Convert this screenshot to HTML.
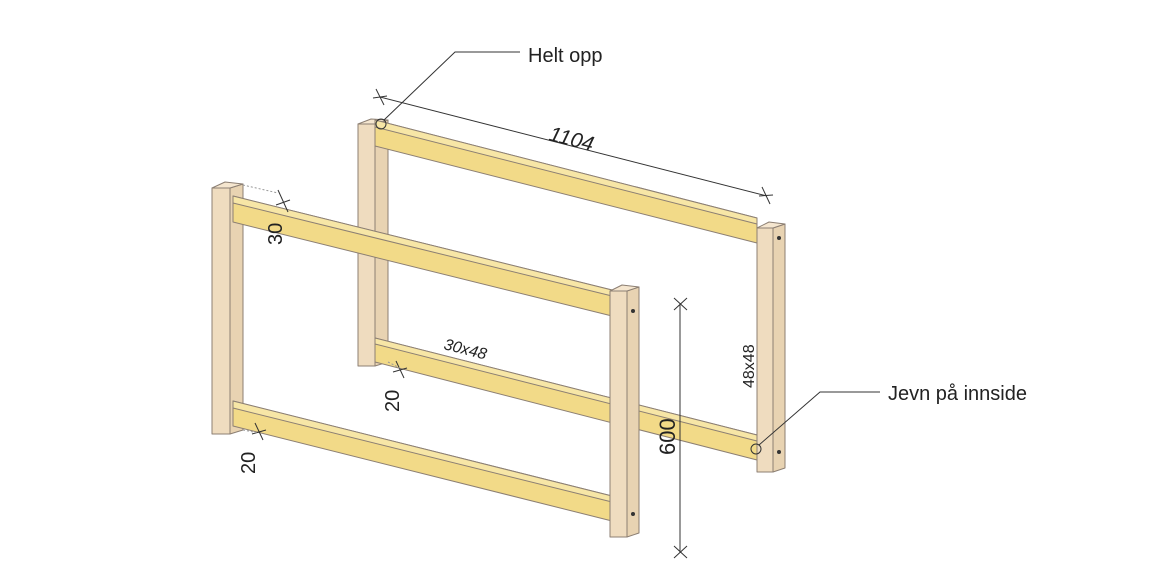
<!DOCTYPE html>
<html><head><meta charset="utf-8"><style>
html,body{margin:0;padding:0;background:#fff}
svg{display:block}
text{font-family:"Liberation Sans",sans-serif;fill:#222}
</style></head><body>
<svg width="1160" height="581" viewBox="0 0 1160 581" xmlns="http://www.w3.org/2000/svg">
<g stroke="#8c7f73" stroke-width="1" stroke-linejoin="round">
<!-- BACK FRAME -->
<!-- left post -->
<rect x="358" y="124" width="17" height="242" fill="#efdcbf"/>
<polygon points="375,124 388,120 388,362 375,366" fill="#e8d3b2"/>
<polygon points="358,124 371,119 388,120 375,124" fill="#f5e6cf"/>
<!-- top rail -->
<polygon points="375,120 757,218 757,243 375,146" fill="#f2da88"/>
<polygon points="375,120 757,218 757,224 375,127" fill="#f7e6a6"/>
<!-- bottom rail -->
<polygon points="375,338 757,435 757,460 375,362" fill="#f2da88"/>
<polygon points="375,338 757,435 757,441 375,344" fill="#f7e6a6"/>
<!-- right post -->
<rect x="757" y="228" width="16" height="244" fill="#efdcbf"/>
<polygon points="773,228 785,224 785,468 773,472" fill="#e8d3b2"/>
<polygon points="757,228 769,222 785,224 773,228" fill="#f5e6cf"/>
<!-- FRONT FRAME -->
<rect x="212" y="188" width="18" height="246" fill="#efdcbf"/>
<polygon points="230,188 243,184 243,430 230,434" fill="#e8d3b2"/>
<polygon points="212,188 225,182 243,184 230,188" fill="#f5e6cf"/>
<polygon points="233,196 612,290 612,316 233,222" fill="#f2da88"/>
<polygon points="233,196 612,290 612,296 233,203" fill="#f7e6a6"/>
<polygon points="233,401 612,496 612,521 233,426" fill="#f2da88"/>
<polygon points="233,401 612,496 612,502 233,408" fill="#f7e6a6"/>
<rect x="610" y="291" width="17" height="246" fill="#efdcbf"/>
<polygon points="627,291 639,287 639,533 627,537" fill="#e8d3b2"/>
<polygon points="610,291 622,285 639,287 627,291" fill="#f5e6cf"/>
</g>
<!-- screws -->
<g fill="#333">
<circle cx="633" cy="311" r="2"/><circle cx="633" cy="514" r="2"/>
<circle cx="779" cy="238" r="2"/><circle cx="779" cy="452" r="2"/>
</g>
<!-- dimension lines -->
<g stroke="#333" stroke-width="1" fill="none">
<line x1="380" y1="97" x2="767" y2="196"/>
<line x1="376" y1="89" x2="384" y2="105"/><line x1="373" y1="98" x2="387" y2="96"/>
<line x1="762" y1="187" x2="770" y2="204"/><line x1="759" y1="196" x2="773" y2="195"/>
<line x1="680" y1="303" x2="680" y2="553"/>
<line x1="674" y1="298" x2="687" y2="310"/><line x1="674" y1="310" x2="687" y2="298"/>
<line x1="674" y1="546" x2="687" y2="558"/><line x1="674" y1="558" x2="687" y2="546"/>
<!-- leaders -->
<circle cx="381" cy="124" r="5"/>
<polyline points="384,120 455,52 520,52"/>
<circle cx="756" cy="449" r="5"/>
<polyline points="759,445 820,392 880,392"/>
<!-- small ticks -->
<line x1="278" y1="190" x2="288" y2="212"/><line x1="276" y1="205" x2="290" y2="200"/>
<line x1="396" y1="361" x2="404" y2="378"/><line x1="393" y1="372" x2="407" y2="368"/>
<line x1="255" y1="423" x2="263" y2="440"/><line x1="252" y1="434" x2="266" y2="430"/>
</g>
<g stroke="#999" stroke-width="1" stroke-dasharray="2,2" fill="none">
<line x1="243" y1="185" x2="278" y2="193"/>
<line x1="388" y1="362" x2="400" y2="368"/>
<line x1="243" y1="430" x2="258" y2="433"/>
</g>
<!-- labels -->
<text x="528" y="62" font-size="20">Helt opp</text>
<text x="888" y="400" font-size="20">Jevn på innside</text>
<text x="0" y="0" font-size="21" font-style="italic" transform="translate(548,140) rotate(14.5)">1104</text>
<text x="0" y="0" font-size="16" font-style="italic" transform="translate(443,349) rotate(14)">30x48</text>
<text x="0" y="0" font-size="16" transform="translate(754,388) rotate(-90)">48x48</text>
<text x="0" y="0" font-size="22" transform="translate(675,455) rotate(-90)">600</text>
<text x="0" y="0" font-size="20" transform="translate(282,245) rotate(-90)">30</text>
<text x="0" y="0" font-size="20" transform="translate(399,412) rotate(-90)">20</text>
<text x="0" y="0" font-size="20" transform="translate(255,474) rotate(-90)">20</text>
</svg>
</body></html>
